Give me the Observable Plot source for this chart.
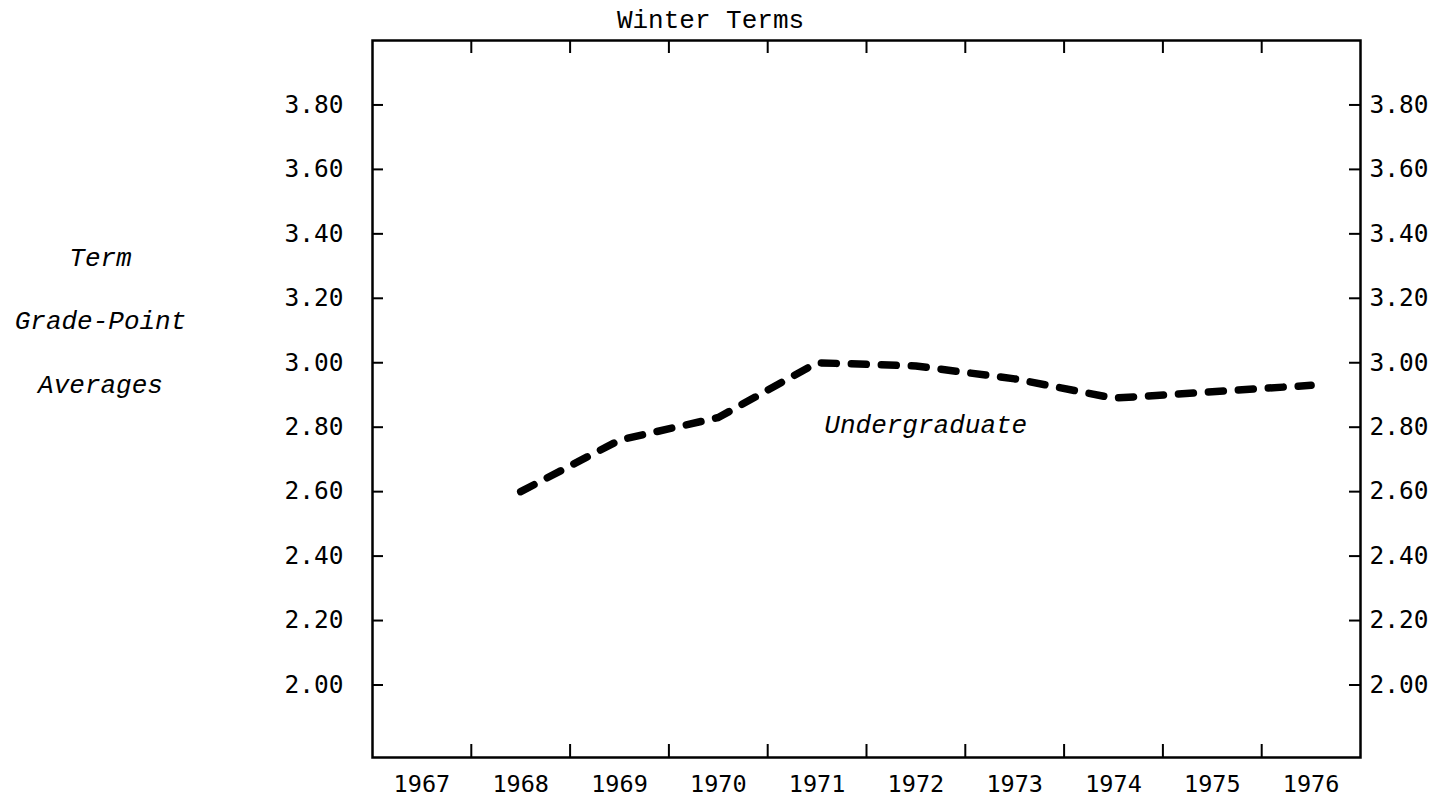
<!DOCTYPE html>
<html>
<head>
<meta charset="utf-8">
<script src="https://cdn.jsdelivr.net/npm/d3@7"></script>
<script src="https://cdn.jsdelivr.net/npm/@observablehq/plot@0.6"></script>
<style>
  html, body { margin: 0; padding: 0; background: #fff; }
  #chart svg { display: block; }
</style>
</head>
<body>
<div id="chart"></div>
<script>
// ---- data ----
const years = [1967, 1968, 1969, 1970, 1971, 1972, 1973, 1974, 1975, 1976];
const undergradYears = [1968, 1969, 1970, 1971, 1972, 1973, 1974, 1975, 1976];
const undergradGPA = [2.60, 2.76, 2.83, 3.00, 2.99, 2.95, 2.89, 2.91, 2.93];
const yTicks = [2.00, 2.20, 2.40, 2.60, 2.80, 3.00, 3.20, 3.40, 3.60, 3.80];
const titleText = "Winter Terms";
const yLabelLines = ["Term", "Grade-Point", "Averages"];
const seriesName = "Undergraduate";

// ---- layout ----
const W = 1452, H = 800;
const mL = 372, mR = 92, mT = 40, mB = 43;
const xDomain = [years[0] - 0.5, years[years.length - 1] + 0.5];
const yDomain = [1.775, 4.0];
const pxPerX = (W - mL - mR) / (xDomain[1] - xDomain[0]);
const pxPerY = (H - mT - mB) / (yDomain[1] - yDomain[0]);
const tickFont = "'DejaVu Sans Mono', monospace";
const typeFont = "'Liberation Mono', 'Courier New', monospace";

const data = undergradYears.map((yr, i) => ({year: yr, gpa: undergradGPA[i]}));
const bounds = years.slice(1).map(y => y - 0.5);
const yTickLen = 11 / pxPerX;
const xTickLen = 13 / pxPerY;

const chart = Plot.plot({
  width: W,
  height: H,
  marginLeft: mL,
  marginRight: mR,
  marginTop: mT,
  marginBottom: mB,
  style: {background: "#fff", color: "#000", fontFamily: tickFont},
  x: {type: "linear", domain: xDomain, axis: null},
  y: {type: "linear", domain: yDomain, axis: null},
  marks: [
    // bottom year labels
    Plot.axisX(years, {anchor: "bottom", tickSize: 0, tickPadding: 18, tickFormat: d => String(d),
      fontSize: 23.5, fontFamily: tickFont, label: null}),
    // left and right value labels
    Plot.axisY(yTicks, {anchor: "left", tickSize: 0, tickPadding: 29, tickFormat: d3.format(".2f"),
      fontSize: 24.5, fontFamily: tickFont, label: null}),
    Plot.axisY(yTicks, {anchor: "right", tickSize: 0, tickPadding: 9, tickFormat: d3.format(".2f"),
      fontSize: 24.5, fontFamily: tickFont, label: null}),
    // inward tick marks
    Plot.ruleY(yTicks, {y: d => d, x1: xDomain[0], x2: xDomain[0] + yTickLen, stroke: "#000", strokeWidth: 2}),
    Plot.ruleY(yTicks, {y: d => d, x1: xDomain[1] - yTickLen, x2: xDomain[1], stroke: "#000", strokeWidth: 2}),
    Plot.ruleX(bounds, {x: d => d, y1: yDomain[0], y2: yDomain[0] + xTickLen, stroke: "#000", strokeWidth: 2}),
    Plot.ruleX(bounds, {x: d => d, y1: yDomain[1] - xTickLen, y2: yDomain[1], stroke: "#000", strokeWidth: 2}),
    // frame
    Plot.frame({stroke: "#000", strokeWidth: 2.5}),
    // series
    Plot.line(data, {x: "year", y: "gpa", stroke: "#000", strokeWidth: 7.5,
      strokeDasharray: "15,15", strokeLinecap: "round", strokeLinejoin: "round"}),
    Plot.text([seriesName], {x: 1972.1, y: 2.808, text: d => d, fontSize: 26, fontStyle: "italic",
      fontFamily: typeFont, textAnchor: "middle", fill: "#000"}),
    // title
    Plot.text([titleText], {frameAnchor: "top-left", dx: 338, dy: -21, text: d => d, fontSize: 26,
      fontFamily: typeFont, textAnchor: "middle", lineAnchor: "middle", fill: "#000"}),
    // y label (multi-line)
    Plot.text([yLabelLines.join("\n")], {frameAnchor: "left", dx: -272, dy: -90, text: d => d,
      fontSize: 26, fontStyle: "italic", fontFamily: typeFont, textAnchor: "middle",
      lineHeight: 2.46, lineAnchor: "middle", fill: "#000"})
  ]
});

document.getElementById("chart").appendChild(chart);
</script>
</body>
</html>
